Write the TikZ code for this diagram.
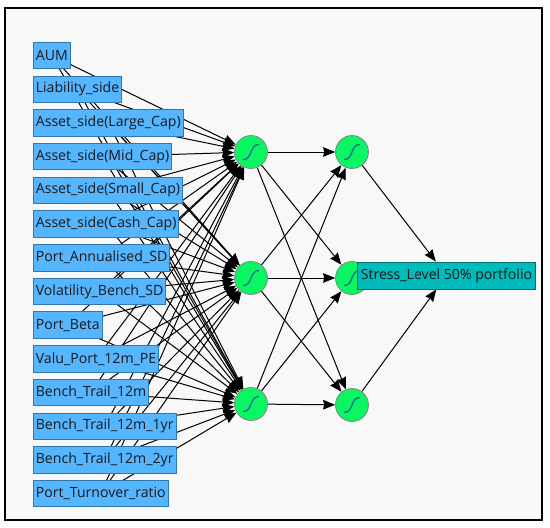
\documentclass[tikz,border=0pt]{standalone}
\usepackage{fontspec}
\setmainfont{Open Sans}
\usetikzlibrary{arrows.meta, positioning, backgrounds}
\definecolor{inputblue}{HTML}{55B5FF}
\definecolor{inputedge}{HTML}{2F78B0}
\definecolor{neurongreen}{HTML}{0AF562}
\definecolor{outputteal}{HTML}{00BBBB}
\definecolor{sigmoidblue}{HTML}{1B6E8C}
\definecolor{panelgray}{HTML}{F8F8F8}

\begin{document}
\begin{tikzpicture}[
x=1pt, y=-1pt,
node distance=33.7pt,
input/.style={draw=inputedge, line width=0.9pt, fill=inputblue, minimum height=26.5pt, inner xsep=2.4pt, inner ysep=0pt, font=\fontsize{14.1}{16}\selectfont, text=black!90},
neuron/.style={circle, draw=gray, line width=0.7pt, fill=neurongreen, minimum size=33pt, inner sep=0pt,
  path picture={\draw[sigmoidblue, line width=1.3pt] ([shift={(-8pt,-7.5pt)}]path picture bounding box.center) .. controls +(10pt,0pt) and +(-10pt,0pt) .. +(16pt,15pt);}},
output/.style={draw=outputteal!60!black, line width=0.9pt, fill=outputteal, minimum height=27pt, inner xsep=3.2pt, inner ysep=0pt, font=\fontsize{14.1}{16}\selectfont, text=black!90},
link/.style={-{Stealth[length=12pt, width=9.5pt, inset=1pt]}, line width=1pt, black}
]
\useasboundingbox (0,0) rectangle (550,528);

% input column
\node[input, anchor=west] (aum) at (33,55.5) {AUM};
\node[input, below=of aum.west, anchor=west] (liability) {Liability\_side};
\node[input, below=of liability.west, anchor=west] (large) {Asset\_side(Large\_Cap)};
\node[input, below=of large.west, anchor=west] (mid) {Asset\_side(Mid\_Cap)};
\node[input, below=of mid.west, anchor=west] (small) {Asset\_side(Small\_Cap)};
\node[input, below=of small.west, anchor=west] (cash) {Asset\_side(Cash\_Cap)};
\node[input, below=of cash.west, anchor=west] (annsd) {Port\_Annualised\_SD};
\node[input, below=of annsd.west, anchor=west] (volsd) {Volatility\_Bench\_SD};
\node[input, below=of volsd.west, anchor=west] (beta) {Port\_Beta};
\node[input, below=of beta.west, anchor=west] (pe) {Valu\_Port\_12m\_PE};
\node[input, below=of pe.west, anchor=west] (trail) {Bench\_Trail\_12m};
\node[input, below=of trail.west, anchor=west] (trailone) {Bench\_Trail\_12m\_1yr};
\node[input, below=of trailone.west, anchor=west] (trailtwo) {Bench\_Trail\_12m\_2yr};
\node[input, below=of trailtwo.west, anchor=west] (turnover) {Port\_Turnover\_ratio};

% hidden layers
\node[neuron] (hidA) at (251,152) {};
\node[neuron] (hidB) at (251,278) {};
\node[neuron] (hidC) at (251,404) {};
\node[neuron] (nextA) at (352,152) {};
\node[neuron] (nextB) at (352,278) {};
\node[neuron] (nextC) at (352,405) {};

\node[output] (stress) at (446.5,275.5) {Stress\_Level 50\% portfolio};

\begin{pgfonlayer}{background}
\draw[line width=2pt, fill=panelgray] (4.5,7.5) rectangle (542,519.5);
\foreach \src in {aum,liability,large,mid,small,cash,annsd,volsd,beta,pe,trail,trailone,trailtwo,turnover}
  \foreach \dst in {hidA,hidB,hidC}
    \draw[link] (\src.center) -- (\dst);
\foreach \src in {hidA,hidB,hidC}
  \foreach \dst in {nextA,nextB,nextC}
    \draw[link] (\src) -- (\dst);
\foreach \src in {nextA,nextB,nextC}
  \draw[link] (\src) -- (stress);
\end{pgfonlayer}
\end{tikzpicture}
\end{document}
